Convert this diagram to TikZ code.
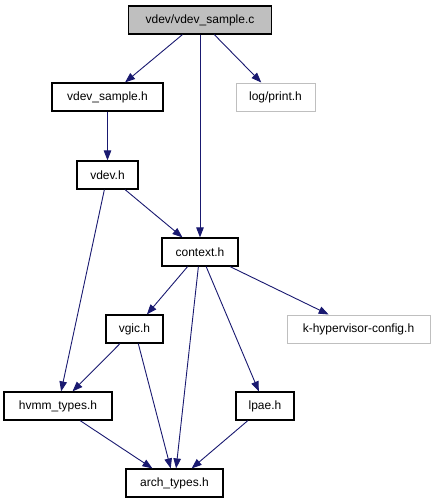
\documentclass[tikz,border=0pt]{standalone}
\usepackage{fontspec}
\setmainfont{Liberation Sans}
\usetikzlibrary{arrows.meta}
\definecolor{EdgeBlue}{RGB}{25,25,112}
\definecolor{SrcGray}{RGB}{191,191,191}
\colorlet{MissBorder}{SrcGray}

\begin{document}
\begin{tikzpicture}[x=1pt,y=-1pt,
    file/.style={draw=black,line width=1.2pt,fill=white,minimum height=28pt,
      inner sep=0pt,font=\fontsize{12}{14}\selectfont},
    srcfile/.style={file,fill=SrcGray},
    extfile/.style={file,draw=MissBorder,line width=1pt},
    dep/.style={-{Triangle[length=10pt,width=7.5pt]},EdgeBlue,line width=0.9pt}]
  \useasboundingbox (0,0) rectangle (435,504);
  % nodes
  \node[srcfile,minimum width=143pt] (src) at (200,20) {vdev/vdev\_sample.c};
  \node[file,minimum width=111pt] (vsh) at (107.5,97) {vdev\_sample.h};
  \node[extfile,minimum width=79pt] (logp) at (275.5,97) {log/print.h};
  \node[file,minimum width=61pt] (vdevh) at (107.5,175) {vdev.h};
  \node[file,minimum width=76pt] (ctx) at (200,252) {context.h};
  \node[file,minimum width=57pt] (vgic) at (134.5,329) {vgic.h};
  \node[extfile,minimum width=143pt] (khc) at (358.5,329) {k-hypervisor-config.h};
  \node[file,minimum width=108pt] (hvmm) at (58,406) {hvmm\_types.h};
  \node[file,minimum width=58pt] (lpae) at (265,406) {lpae.h};
  \node[file,minimum width=97pt] (arch) at (174.5,483) {arch\_types.h};
  % edges
  \draw[dep] (src) -- (vsh);
  \draw[dep] (src) -- (ctx);
  \draw[dep] (src) -- (logp);
  \draw[dep] (vsh) -- (vdevh);
  \draw[dep] (vdevh) -- (ctx);
  \draw[dep] (vdevh) -- (hvmm);
  \draw[dep] (ctx) -- (vgic);
  \draw[dep] (ctx) -- (arch);
  \draw[dep] (ctx) -- (lpae);
  \draw[dep] (ctx) -- (khc);
  \draw[dep] (vgic) -- (hvmm);
  \draw[dep] (vgic) -- (arch);
  \draw[dep] (hvmm) -- (arch);
  \draw[dep] (lpae) -- (arch);
\end{tikzpicture}
\end{document}
